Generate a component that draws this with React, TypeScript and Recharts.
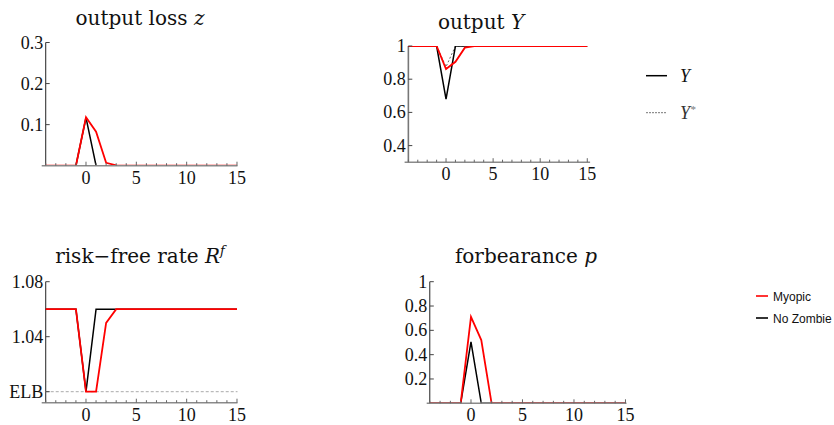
import React from 'react';
import { LineChart, Line, XAxis, YAxis, ReferenceLine } from 'recharts';

const periods = [-4, -3, -2, -1, 0, 1, 2, 3, 4, 5, 6, 7, 8, 9, 10, 11, 12, 13, 14, 15];
const xTicks = periods;

const zMyopic = [0, 0, 0, 0, 0.118, 0.083, 0.007, 0.001, 0, 0, 0, 0, 0, 0, 0, 0, 0, 0, 0, 0];
const zNoZombie = [0, 0, 0, 0, 0.117, 0, 0, 0, 0, 0, 0, 0, 0, 0, 0, 0, 0, 0, 0, 0];

const yMyopic = [1, 1, 1, 1, 0.861, 0.905, 0.99, 1, 1, 1, 1, 1, 1, 1, 1, 1, 1, 1, 1, 1];
const yNoZombie = [1, 1, 1, 1, 0.68, 1, 1, 1, 1, 1, 1, 1, 1, 1, 1, 1, 1, 1, 1, 1];
const yStar = [1, 1, 1, 1, 0.875, 1, 1, 1, 1, 1, 1, 1, 1, 1, 1, 1, 1, 1, 1, 1];

const rfMyopic = [1.06, 1.06, 1.06, 1.06, 1.0, 1.0, 1.05, 1.06, 1.06, 1.06, 1.06, 1.06, 1.06, 1.06, 1.06, 1.06, 1.06, 1.06, 1.06, 1.06];
const rfNoZombie = [1.06, 1.06, 1.06, 1.06, 1.0, 1.06, 1.06, 1.06, 1.06, 1.06, 1.06, 1.06, 1.06, 1.06, 1.06, 1.06, 1.06, 1.06, 1.06, 1.06];
const elb = 1.0;

const pMyopic = [0, 0, 0, 0, 0.71, 0.52, 0, 0, 0, 0, 0, 0, 0, 0, 0, 0, 0, 0, 0, 0];
const pNoZombie = [0, 0, 0, 0, 0.505, 0, 0, 0, 0, 0, 0, 0, 0, 0, 0, 0, 0, 0, 0, 0];

const zTicks = [0.1, 0.2, 0.3];
const yTicks = [0.4, 0.6, 0.8, 1];
const rfTicks = [1.0, 1.04, 1.08];
const pTicks = [0.2, 0.4, 0.6, 0.8, 1];

const W = 834;
const H = 425;
const YW = 40;
const XH = 30;
const TICK_FONT = 'Liberation Serif';
const TITLE_FONT = 'DejaVu Serif';
const RED = '#ff0000';
const AXIS_GRAY = '#8a8a8a';

const rows = periods.map((t, i) => ({
  t,
  zM: zMyopic[i],
  zN: zNoZombie[i],
  yM: yMyopic[i],
  yN: yNoZombie[i],
  yS: yStar[i],
  rM: rfMyopic[i],
  rN: rfNoZombie[i],
  pM: pMyopic[i],
  pN: pNoZombie[i],
}));

const fmtNum = (v: number) => (v === 1 ? '1' : String(v));

// x tick: inward tick mark + label on multiples of 5
const XTick = (props: any) => {
  const { x, y, payload } = props;
  const v = payload.value;
  const axisY = y - 4;
  const major = v % 5 === 0 && v >= 0;
  return (
    <g>
      <line x1={x} y1={axisY} x2={x} y2={axisY - (major ? 4 : 2.5)} stroke="#666" strokeWidth={1} />
      {major ? (
        <text x={x} y={y + 14} textAnchor="middle" fontFamily={TICK_FONT} fontSize={18} fill="#111">
          {String(v)}
        </text>
      ) : null}
    </g>
  );
};

const makeYTick = (axisOff: number, fmt: (v: number) => string) => (props: any) => {
  const { x, y, payload } = props;
  const ax = x + axisOff;
  return (
    <g>
      <line x1={ax} y1={y} x2={ax + 4} y2={y} stroke="#444" strokeWidth={1} />
      <text x={ax - 2.5} y={y} textAnchor="end" dominantBaseline="central" fontFamily={TICK_FONT} fontSize={18} fill="#111">
        {fmt(payload.value)}
      </text>
    </g>
  );
};

type PanelProps = {
  L: number;
  R: number;
  T: number;
  B: number;
  xDomain: [number, number];
  yDomain: [number, number];
  yTicksArr: number[];
  axisOff: number;
  yFmt: (v: number) => string;
  yAxisStroke: string;
  yAxisWidth: number;
  children: React.ReactNode;
};

const Panel = ({ L, R, T, B, xDomain, yDomain, yTicksArr, axisOff, yFmt, yAxisStroke, yAxisWidth, children }: PanelProps) => (
  <div style={{ position: 'absolute', left: 0, top: 0 }}>
    <LineChart
      width={W}
      height={H}
      data={rows}
      margin={{ left: L - YW, right: W - R, top: T, bottom: H - B - XH }}
    >
      <XAxis
        dataKey="t"
        type="number"
        domain={xDomain}
        ticks={xTicks}
        allowDataOverflow
        height={XH}
        axisLine={{ stroke: AXIS_GRAY, strokeWidth: 1.6 }}
        tickLine={false}
        tickSize={3}
        tickMargin={1}
        tick={<XTick />}
        interval={0}
      />
      <YAxis
        type="number"
        domain={yDomain}
        ticks={yTicksArr}
        allowDataOverflow
        width={YW}
        axisLine={false}
        tickLine={false}
        tickSize={0}
        tickMargin={0}
        tick={makeYTick(axisOff, yFmt)}
        interval={0}
      />
      <ReferenceLine x={-4} stroke={yAxisStroke} strokeWidth={yAxisWidth} />
      {children}
    </LineChart>
  </div>
);

export default function App() {
  return (
    <div style={{ position: 'absolute', left: 0, top: 0, width: W, height: H, background: '#fff', overflow: 'hidden' }}>
      {/* output loss z */}
      <Panel L={41.7} R={237.5} T={42.5} B={165.7} xDomain={[-4.4, 15.05]} yDomain={[0, 0.3]} yTicksArr={zTicks} axisOff={4.0} yFmt={fmtNum} yAxisStroke="#222" yAxisWidth={1}>
        <Line dataKey="zN" stroke="#000" strokeWidth={1.5} dot={false} isAnimationActive={false} />
        <Line dataKey="zM" stroke={RED} strokeWidth={1.8} dot={false} isAnimationActive={false} />
      </Panel>
      {/* output Y */}
      <Panel L={404.6} R={590.1} T={46} B={162.2} xDomain={[-4.4, 15.3]} yDomain={[0.3, 1]} yTicksArr={yTicks} axisOff={3.7} yFmt={fmtNum} yAxisStroke="#777" yAxisWidth={1.6}>
        <Line dataKey="yS" stroke="#666" strokeWidth={1} strokeDasharray="2 2" dot={false} isAnimationActive={false} />
        <Line dataKey="yN" stroke="#000" strokeWidth={1.5} dot={false} isAnimationActive={false} />
        <Line dataKey="yM" stroke={RED} strokeWidth={1.8} dot={false} isAnimationActive={false} />
      </Panel>
      {/* risk-free rate */}
      <Panel L={41.7} R={237.5} T={281.7} B={402.7} xDomain={[-4.4, 15.05]} yDomain={[0.992, 1.08]} yTicksArr={rfTicks} axisOff={4.0} yFmt={(v) => (v === elb ? 'ELB' : v.toFixed(2))} yAxisStroke="#222" yAxisWidth={1}>
        <ReferenceLine segment={[{ x: -4, y: elb }, { x: 15.05, y: elb }]} stroke="#aaa" strokeWidth={1} strokeDasharray="3 2" />
        <Line dataKey="rN" stroke="#000" strokeWidth={1.5} dot={false} isAnimationActive={false} />
        <Line dataKey="rM" stroke={RED} strokeWidth={1.8} dot={false} isAnimationActive={false} />
      </Panel>
      {/* forbearance p */}
      <Panel L={426.7} R={626.5} T={281.7} B={403.3} xDomain={[-4.3, 15.1]} yDomain={[0, 1]} yTicksArr={pTicks} axisOff={3.1} yFmt={fmtNum} yAxisStroke="#222" yAxisWidth={1}>
        <Line dataKey="pN" stroke="#000" strokeWidth={1.5} dot={false} isAnimationActive={false} />
        <Line dataKey="pM" stroke={RED} strokeWidth={1.8} dot={false} isAnimationActive={false} />
      </Panel>

      <svg width={W} height={H} style={{ position: 'absolute', left: 0, top: 0, pointerEvents: 'none' }}>
        <g fontFamily={TITLE_FONT} fontSize={20} fill="#111" style={{ whiteSpace: 'pre' }}>
          <text x={140} y={25} textAnchor="middle">
            output loss <tspan fontStyle="italic">z</tspan>
          </text>
          <text x={481} y={29} textAnchor="middle">
            output <tspan fontStyle="italic">Y</tspan>
          </text>
          <text x={140} y={263} textAnchor="middle">
            {'risk\u2212free rate  '}<tspan fontStyle="italic">R</tspan>
            <tspan fontStyle="italic" fontSize={13} dy={-8}>f</tspan>
          </text>
          <text x={526} y={263} textAnchor="middle">
            {'forbearance  '}<tspan fontStyle="italic">p</tspan>
          </text>
        </g>
        {/* legend Y / Y* */}
        <line x1={646} y1={75.7} x2={667} y2={75.7} stroke="#000" strokeWidth={1.5} />
        <text x={680} y={82} fontFamily={TICK_FONT} fontStyle="italic" fontSize={18} fill="#111">Y</text>
        <line x1={646} y1={112.7} x2={667} y2={112.7} stroke="#777" strokeWidth={1} strokeDasharray="2 1" />
        <text x={680} y={119} fontFamily={TICK_FONT} fontStyle="italic" fontSize={18} fill="#333">
          Y<tspan fontSize={11} dy={-6} fill="#777">*</tspan>
        </text>
        {/* legend Myopic / No Zombie */}
        <line x1={756} y1={296} x2={768} y2={296} stroke={RED} strokeWidth={1.6} />
        <text x={773} y={300.5} fontFamily="Liberation Sans" fontSize={12} fill="#111">Myopic</text>
        <line x1={756} y1={318} x2={768} y2={318} stroke="#000" strokeWidth={1.6} />
        <text x={773} y={322.5} fontFamily="Liberation Sans" fontSize={12} fill="#111">No Zombie</text>
      </svg>
    </div>
  );
}
